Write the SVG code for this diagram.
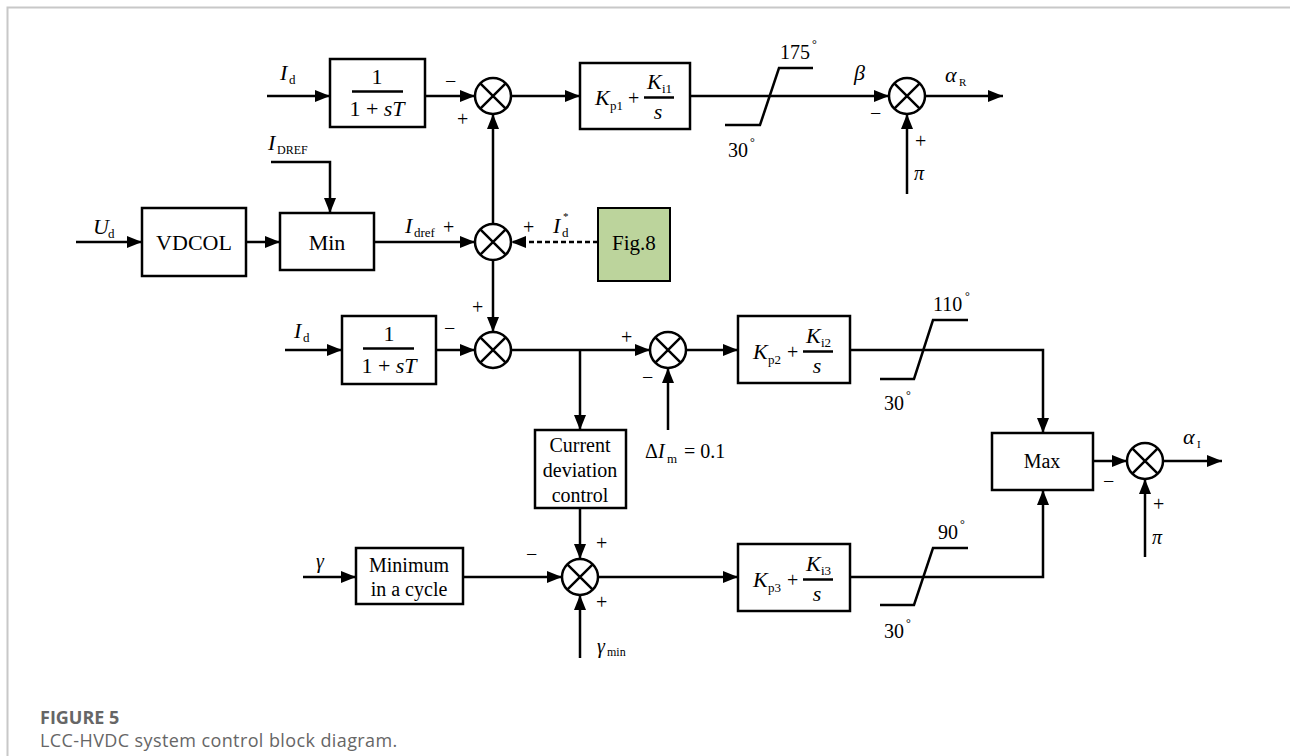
<svg xmlns="http://www.w3.org/2000/svg" width="1290" height="756" viewBox="0 0 1290 756">
<style>
.ln{stroke:#000;stroke-width:2.5;fill:none}
.ar{stroke:#000;stroke-width:2.5;fill:none;marker-end:url(#ah)}
.bx{stroke:#000;stroke-width:2.5;fill:#fff}
.sm{stroke:#000;stroke-width:2.5;fill:#fff}
.t{font-family:"Liberation Serif","Times New Roman",serif;fill:#000}
.i{font-style:italic}
.c{text-anchor:middle}
.cap{font-family:"Open Sans","Noto Sans",sans-serif;fill:#666}
</style>
<defs>
<marker id="ah" markerUnits="userSpaceOnUse" markerWidth="16" markerHeight="12" refX="15" refY="6" orient="auto">
<path d="M0,0 L15,6 L0,12 z" fill="#000"/>
</marker>
<g id="sumX">
<circle r="18" class="sm"/>
<path d="M-12.7,-12.7 L12.7,12.7 M-12.7,12.7 L12.7,-12.7" class="ln"/>
</g>
</defs>
<rect width="1290" height="756" fill="#fff"/>
<path d="M7.5,756 L7.5,7.5 L1290,7.5" stroke="#c8c8c8" stroke-width="2" fill="none"/>

<!-- connectors -->
<g id="connectors">
<path class="ar" d="M267,96 L330,96"/>
<path class="ar" d="M425,96 L475,96"/>
<path class="ar" d="M511,96 L580,96"/>
<path class="ar" d="M690,96 L889,96"/>
<path class="ar" d="M925,96 L1003,96"/>
<path class="ar" d="M907,194 L907,114"/>
<path class="ar" d="M493,224 L493,114"/>
<path class="ar" d="M76,242 L142,242"/>
<path class="ar" d="M246,242 L280,242"/>
<path class="ar" d="M271,162 L330,162 L330,213"/>
<path class="ar" d="M374,242 L475,242"/>
<path class="ar" d="M598,242 L511,242" stroke-dasharray="5,3"/>
<path class="ar" d="M493,260 L493,332"/>
<path class="ar" d="M285,350 L342,350"/>
<path class="ar" d="M436,350 L475,350"/>
<path class="ar" d="M511,350 L650,350"/>
<path class="ar" d="M580,350 L580,430"/>
<path class="ar" d="M668,430 L668,368"/>
<path class="ar" d="M686,350 L738,350"/>
<path class="ar" d="M850,350 L1043,350 L1043,433"/>
<path class="ar" d="M1093,461 L1127,461"/>
<path class="ar" d="M1163,461 L1222,461"/>
<path class="ar" d="M1145,557 L1145,479"/>
<path class="ar" d="M303,577 L356,577"/>
<path class="ar" d="M463,577 L562,577"/>
<path class="ar" d="M580,508 L580,559"/>
<path class="ar" d="M580,658 L580,595"/>
<path class="ar" d="M598,577 L738,577"/>
<path class="ar" d="M850,577 L1043,577 L1043,490"/>
</g>

<!-- limiters -->
<g id="limiter1"><path class="ln" d="M725,125 L760,125 L779,68 L813,68"/>
<text class="t" x="780" y="59" font-size="20">175</text><text class="t" x="812" y="48" font-size="12">°</text>
<text class="t" x="728" y="157" font-size="20">30</text><text class="t" x="750" y="146" font-size="12">°</text></g>
<g id="limiter2"><path class="ln" d="M880,379 L914,379 L933,320 L968,320"/>
<text class="t" x="933" y="311" font-size="20">110</text><text class="t" x="965" y="300" font-size="12">°</text>
<text class="t" x="884" y="410" font-size="20">30</text><text class="t" x="906" y="399" font-size="12">°</text></g>
<g id="limiter3"><path class="ln" d="M880,605 L914,605 L933,548 L968,548"/>
<text class="t" x="938" y="539" font-size="20">90</text><text class="t" x="960" y="528" font-size="12">°</text>
<text class="t" x="884" y="638" font-size="20">30</text><text class="t" x="906" y="627" font-size="12">°</text></g>

<!-- row 1 -->
<g id="lblId1"><text class="t i" x="280" y="80" font-size="22">I</text><text class="t" x="289" y="84" font-size="13">d</text></g>
<g id="filter1"><rect class="bx" x="330" y="59" width="95" height="68"/>
<text class="t c" x="377" y="84" font-size="22">1</text>
<path class="ln" d="M352,91.5 L403,91.5" stroke-width="1.5"/>
<text class="t c" x="377" y="116" font-size="22">1 + <tspan font-style="italic">sT</tspan></text></g>
<g id="sum1"><use href="#sumX" x="493" y="96"/>
<text class="t" x="445" y="88" font-size="20">−</text><text class="t" x="457" y="126" font-size="20">+</text></g>
<g id="pi1"><rect class="bx" x="580" y="63" width="110" height="66"/>
<text class="t i" x="595" y="105" font-size="22">K</text><text class="t" x="610" y="110" font-size="13">p1</text>
<text class="t" x="628" y="105" font-size="20">+</text>
<path class="ln" d="M644,97.5 L674,97.5" stroke-width="1.5"/>
<text class="t i" x="647" y="89" font-size="22">K</text><text class="t" x="662" y="93" font-size="13">i1</text>
<text class="t i c" x="658" y="119" font-size="22">s</text></g>
<g id="sum2"><use href="#sumX" x="907" y="96"/>
<text class="t i" x="854" y="80" font-size="22">β</text>
<text class="t i" x="945" y="82" font-size="22">α</text><text class="t" x="959" y="86" font-size="11">R</text>
<text class="t" x="870" y="120" font-size="20">−</text><text class="t" x="915" y="148" font-size="20">+</text>
<text class="t i" x="914" y="180" font-size="20">π</text></g>

<!-- row 2 -->
<g id="lblUd"><text class="t i" x="93" y="234" font-size="22">U</text><text class="t" x="108" y="238" font-size="13">d</text></g>
<g id="vdcol"><rect class="bx" x="142" y="208" width="104" height="68"/>
<text class="t c" x="194" y="250" font-size="22">VDCOL</text></g>
<g id="lblIDREF"><text class="t i" x="268" y="150" font-size="22">I</text><text class="t" x="277" y="154" font-size="12">DREF</text></g>
<g id="min"><rect class="bx" x="280" y="213" width="94" height="57"/>
<text class="t c" x="327" y="250" font-size="22">Min</text></g>
<g id="sum3"><use href="#sumX" x="493" y="242"/>
<text class="t i" x="405" y="233" font-size="22">I</text><text class="t" x="414" y="237" font-size="13">dref</text>
<text class="t" x="443" y="234" font-size="20">+</text>
<text class="t" x="523" y="234" font-size="20">+</text>
<text class="t i" x="553" y="233" font-size="22">I</text><text class="t" x="562" y="237" font-size="13">d</text><text class="t" x="563" y="220" font-size="11">*</text></g>
<g id="fig8"><rect x="598" y="208" width="72" height="73" fill="#bcd49c" stroke="#000" stroke-width="2"/>
<text class="t c" x="634" y="250" font-size="21">Fig.8</text></g>

<!-- row 3 -->
<g id="lblId2"><text class="t i" x="294" y="338" font-size="22">I</text><text class="t" x="303" y="342" font-size="13">d</text></g>
<g id="filter2"><rect class="bx" x="342" y="316" width="94" height="68"/>
<text class="t c" x="389" y="341" font-size="22">1</text>
<path class="ln" d="M363,348.5 L414,348.5" stroke-width="1.5"/>
<text class="t c" x="389" y="373" font-size="22">1 + <tspan font-style="italic">sT</tspan></text></g>
<g id="sum4"><use href="#sumX" x="493" y="350"/>
<text class="t" x="472" y="314" font-size="20">+</text><text class="t" x="444" y="335" font-size="20">−</text></g>
<g id="sum5"><use href="#sumX" x="668" y="350"/>
<text class="t" x="621" y="344" font-size="20">+</text><text class="t" x="642" y="384" font-size="20">−</text></g>
<g id="lblDIm"><text class="t" x="645" y="458" font-size="20">Δ<tspan font-style="italic">I</tspan></text><text class="t" x="667" y="463" font-size="13">m</text><text class="t" x="684" y="458" font-size="20">= 0.1</text></g>
<g id="pi2"><rect class="bx" x="738" y="316" width="112" height="67"/>
<text class="t i" x="753" y="359" font-size="22">K</text><text class="t" x="768" y="364" font-size="13">p2</text>
<text class="t" x="787" y="359" font-size="20">+</text>
<path class="ln" d="M803,351.5 L833,351.5" stroke-width="1.5"/>
<text class="t i" x="806" y="343" font-size="22">K</text><text class="t" x="821" y="347" font-size="13">i2</text>
<text class="t i c" x="817" y="373" font-size="22">s</text></g>
<g id="cdc"><rect class="bx" x="535" y="430" width="91" height="78"/>
<text class="t c" x="580" y="452" font-size="20">Current</text>
<text class="t c" x="580" y="477" font-size="20">deviation</text>
<text class="t c" x="580" y="502" font-size="20">control</text></g>
<g id="max"><rect class="bx" x="992" y="433" width="101" height="57"/>
<text class="t c" x="1042" y="468" font-size="20">Max</text></g>
<g id="sum6"><use href="#sumX" x="1145" y="461"/>
<text class="t i" x="1183" y="444" font-size="22">α</text><text class="t" x="1197" y="448" font-size="11">I</text>
<text class="t" x="1103" y="488" font-size="20">−</text><text class="t" x="1153" y="511" font-size="20">+</text>
<text class="t i" x="1152" y="544" font-size="20">π</text></g>

<!-- row 4 -->
<g id="lblGamma"><text class="t i" x="316" y="568" font-size="20">γ</text></g>
<g id="mincycle"><rect class="bx" x="356" y="548" width="107" height="56"/>
<text class="t c" x="409" y="572" font-size="20">Minimum</text>
<text class="t c" x="409" y="596" font-size="20">in a cycle</text></g>
<g id="sum7"><use href="#sumX" x="580" y="577"/>
<text class="t" x="526" y="561" font-size="20">−</text><text class="t" x="596" y="550" font-size="20">+</text><text class="t" x="596" y="609" font-size="20">+</text>
<text class="t i" x="597" y="653" font-size="20">γ</text><text class="t" x="607" y="656" font-size="12">min</text></g>
<g id="pi3"><rect class="bx" x="738" y="544" width="112" height="67"/>
<text class="t i" x="753" y="587" font-size="22">K</text><text class="t" x="768" y="592" font-size="13">p3</text>
<text class="t" x="787" y="587" font-size="20">+</text>
<path class="ln" d="M803,579.5 L833,579.5" stroke-width="1.5"/>
<text class="t i" x="806" y="571" font-size="22">K</text><text class="t" x="821" y="575" font-size="13">i3</text>
<text class="t i c" x="817" y="601" font-size="22">s</text></g>

<!-- caption -->
<g id="caption">
<text class="cap" x="40" y="724" font-size="18" font-weight="bold" fill="#5a5a5a">FIGURE 5</text>
<text class="cap" x="40" y="747" font-size="18" letter-spacing="0.4">LCC-HVDC system control block diagram.</text>
</g>
</svg>
